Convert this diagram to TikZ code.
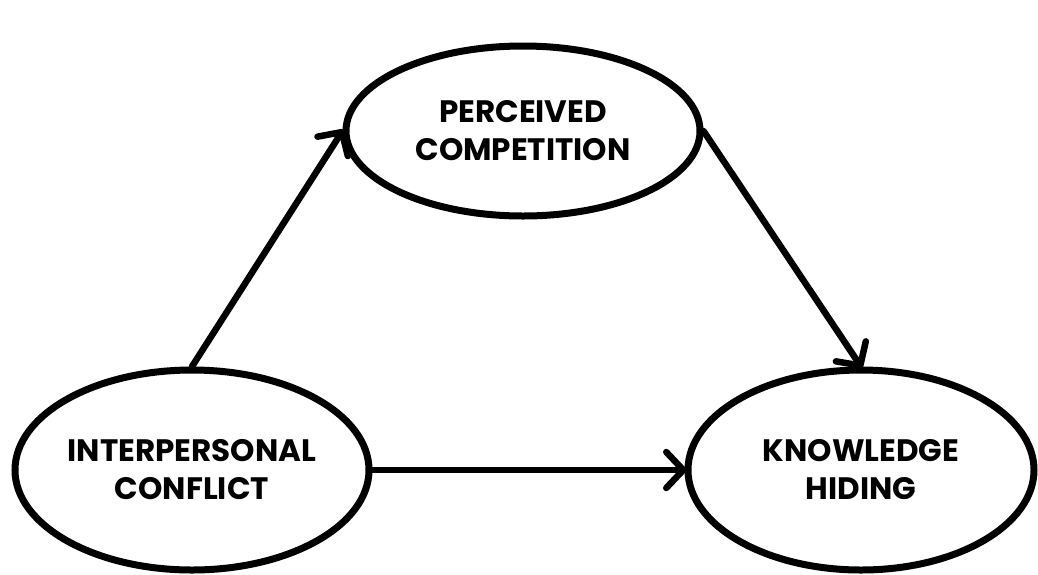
\documentclass[tikz,border=0pt]{standalone}
\usepackage{fontspec}
\setmainfont{Poppins}
\usetikzlibrary{shapes.geometric,arrows.meta}
\tikzset{
  construct/.style={draw=black, line width=7pt, ellipse, inner sep=0pt, fill=white,
    align=center, font=\fontsize{31}{38}\selectfont\bfseries},
  path/.style={draw=black, line width=6.5pt, line cap=round, shorten >=-2pt,
    -{Straight Barb[length=17pt,width=36pt,line width=6.5pt,round]}}
}
\begin{document}
\begin{tikzpicture}[x=1pt,y=-1pt]
\useasboundingbox[fill=white] (0,0) rectangle (1038,574);
\node[construct, minimum width=354pt, minimum height=170pt] (pc) at (523,131) {PERCEIVED\\COMPETITION};
\node[construct, minimum width=354pt, minimum height=200pt] (ic) at (192,470) {INTERPERSONAL\\CONFLICT};
\node[construct, minimum width=346pt, minimum height=200pt] (kh) at (861,470) {KNOWLEDGE\\HIDING};
\draw[path] (ic.north) -- (pc.west);
\draw[path] (pc.east) -- (kh.north);
\draw[path] (ic.east) -- (kh.west);
\end{tikzpicture}
\end{document}
